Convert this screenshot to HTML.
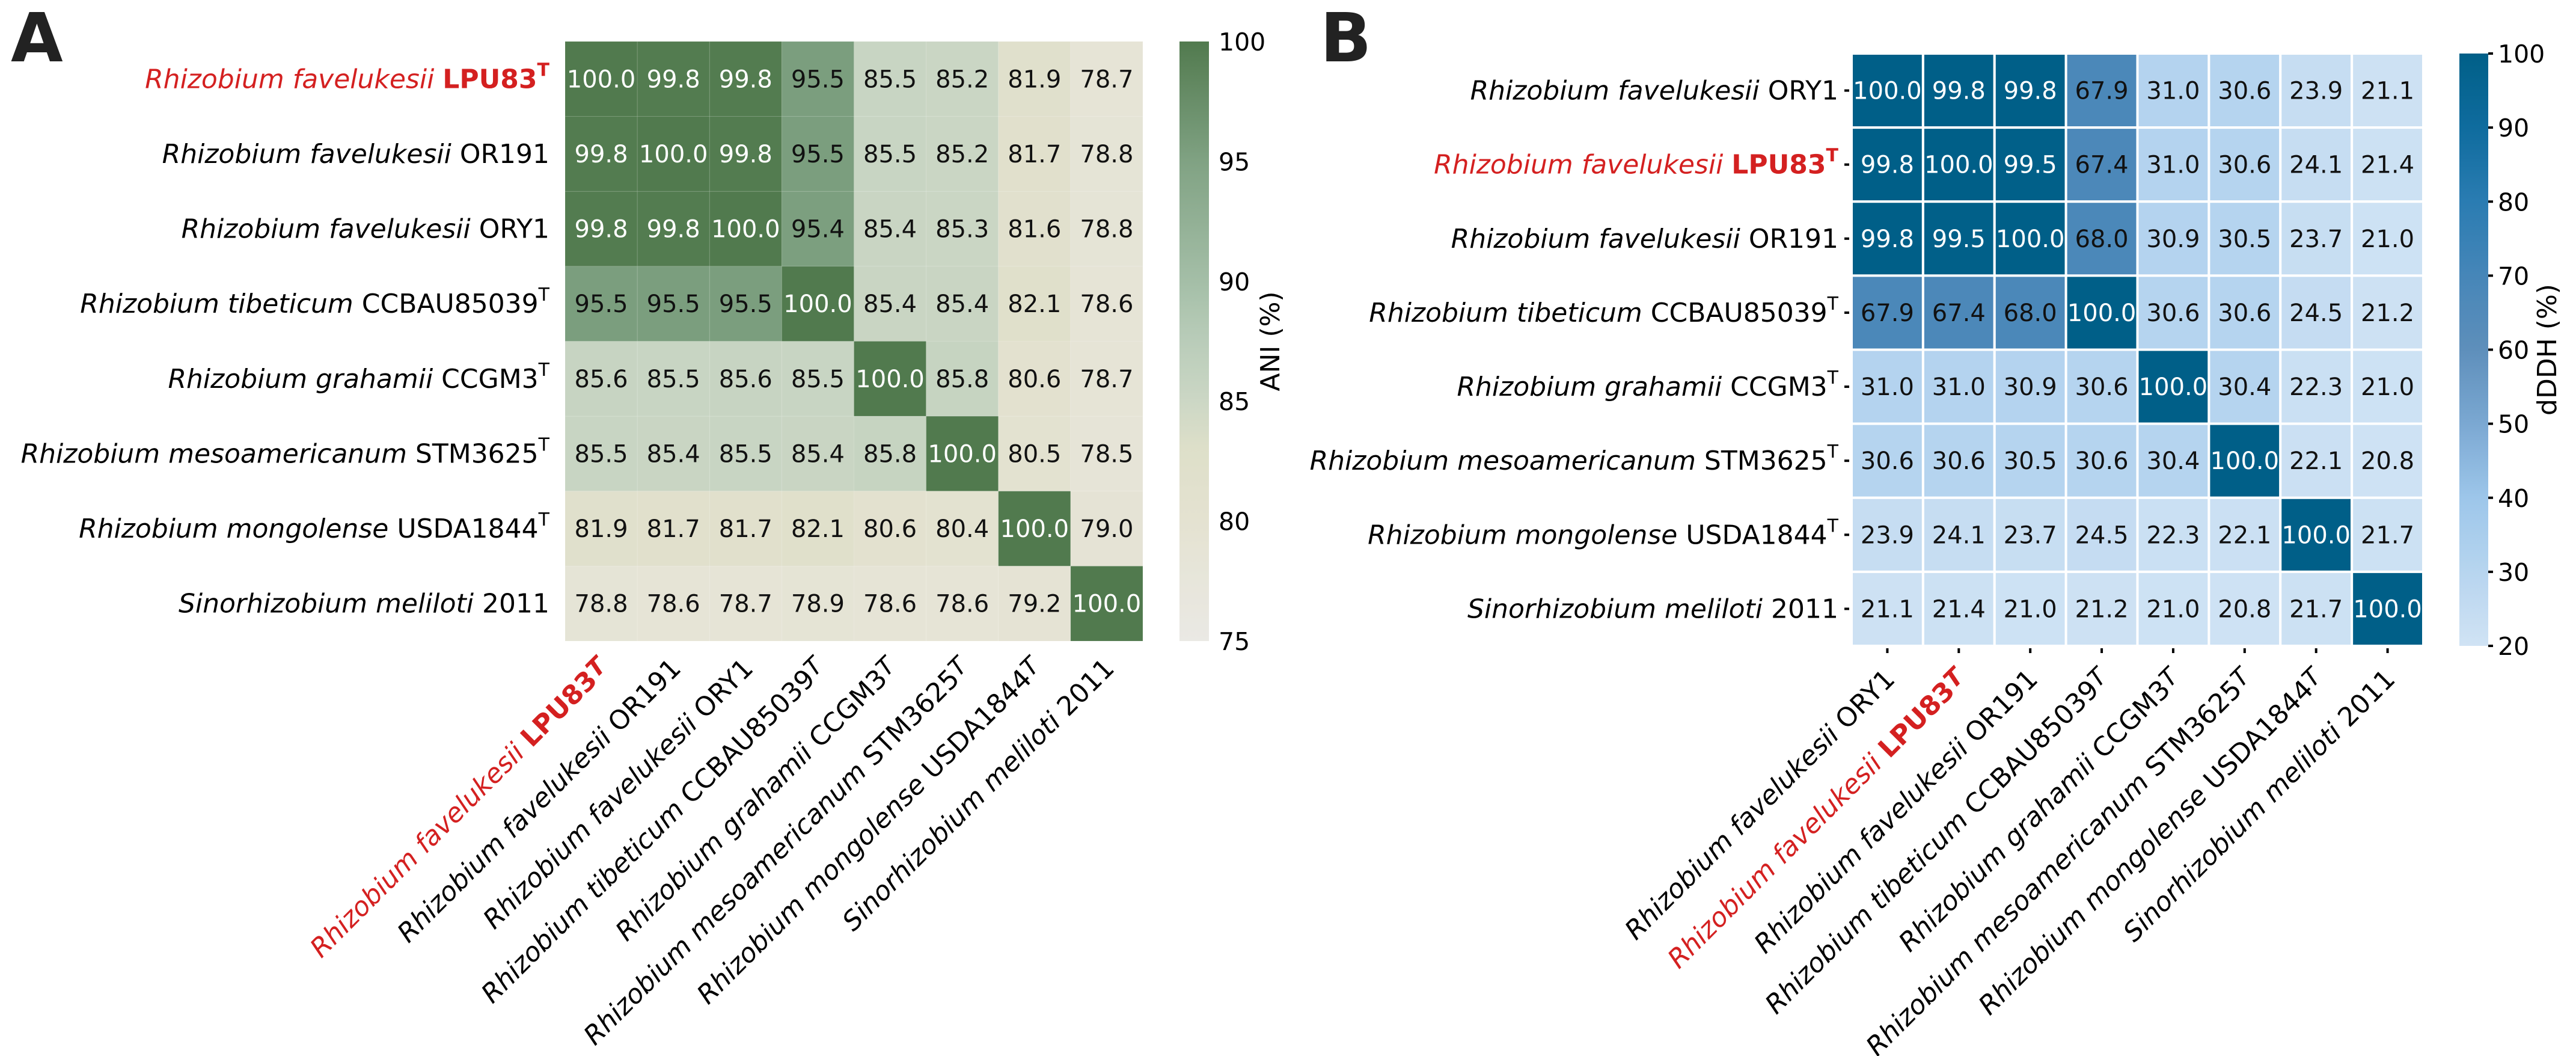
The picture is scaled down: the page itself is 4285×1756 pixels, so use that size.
<!DOCTYPE html>
<html><head><meta charset="utf-8"><style>
html,body{margin:0;padding:0;background:#fff;}
svg{display:block;font-family:"DejaVu Sans","Liberation Sans",sans-serif;}
</style></head><body>
<svg id="fig" width="4285" height="1756" viewBox="0 0 4285 1756" xmlns="http://www.w3.org/2000/svg">
<text x="18" y="102" font-size="112" font-weight="bold" fill="#222">A</text>
<text x="2196" y="102" font-size="112" font-weight="bold" fill="#222">B</text>
<g id="panelA"></g>
<g id="panelB"></g>
</svg>
<script>
// ---- Panel A data (ANI %) ----
const speciesA = ["Rhizobium favelukesii","Rhizobium favelukesii","Rhizobium favelukesii","Rhizobium tibeticum","Rhizobium grahamii","Rhizobium mesoamericanum","Rhizobium mongolense","Sinorhizobium meliloti"];
const strainA = ["LPU83","OR191","ORY1","CCBAU85039","CCGM3","STM3625","USDA1844","2011"];
const typeA = [true,false,false,true,true,true,true,false];
const highlightA = [true,false,false,false,false,false,false,false];
const valuesA = [
 [100.0,99.8,99.8,95.5,85.5,85.2,81.9,78.7],
 [99.8,100.0,99.8,95.5,85.5,85.2,81.7,78.8],
 [99.8,99.8,100.0,95.4,85.4,85.3,81.6,78.8],
 [95.5,95.5,95.5,100.0,85.4,85.4,82.1,78.6],
 [85.6,85.5,85.6,85.5,100.0,85.8,80.6,78.7],
 [85.5,85.4,85.5,85.4,85.8,100.0,80.5,78.5],
 [81.9,81.7,81.7,82.1,80.6,80.4,100.0,79.0],
 [78.8,78.6,78.7,78.9,78.6,78.6,79.2,100.0]
];
const ticksA = [75,80,85,90,95,100];
// ---- Panel B data (dDDH %) ----
const speciesB = ["Rhizobium favelukesii","Rhizobium favelukesii","Rhizobium favelukesii","Rhizobium tibeticum","Rhizobium grahamii","Rhizobium mesoamericanum","Rhizobium mongolense","Sinorhizobium meliloti"];
const strainB = ["ORY1","LPU83","OR191","CCBAU85039","CCGM3","STM3625","USDA1844","2011"];
const typeB = [false,true,false,true,true,true,true,false];
const highlightB = [false,true,false,false,false,false,false,false];
const valuesB = [
 [100.0,99.8,99.8,67.9,31.0,30.6,23.9,21.1],
 [99.8,100.0,99.5,67.4,31.0,30.6,24.1,21.4],
 [99.8,99.5,100.0,68.0,30.9,30.5,23.7,21.0],
 [67.9,67.4,68.0,100.0,30.6,30.6,24.5,21.2],
 [31.0,31.0,30.9,30.6,100.0,30.4,22.3,21.0],
 [30.6,30.6,30.5,30.6,30.4,100.0,22.1,20.8],
 [23.9,24.1,23.7,24.5,22.3,22.1,100.0,21.7],
 [21.1,21.4,21.0,21.2,21.0,20.8,21.7,100.0]
];
const ticksB = [20,30,40,50,60,70,80,90,100];

const NS="http://www.w3.org/2000/svg";
function mk(tag,attrs,parent){const e=document.createElementNS(NS,tag);for(const k in attrs)e.setAttribute(k,attrs[k]);if(parent)parent.appendChild(e);return e;}
function hex(c){return [parseInt(c.slice(1,3),16),parseInt(c.slice(3,5),16),parseInt(c.slice(5,7),16)];}
function cmap(stops,v){
  if(v<=stops[0][0])return stops[0][1];
  for(let i=1;i<stops.length;i++){if(v<=stops[i][0]){const a=stops[i-1],b=stops[i];const t=(v-a[0])/(b[0]-a[0]);const ca=hex(a[1]),cb=hex(b[1]);return "rgb("+ca.map((x,j)=>Math.round(x+(cb[j]-x)*t)).join(",")+")";}}
  return stops[stops.length-1][1];
}
const stopsA=[[75,"#eae9e4"],[80,"#e4e2d1"],[83,"#dedfc9"],[85,"#ccd7c5"],[88,"#b5cab6"],[90,"#a4bea7"],[95,"#80a283"],[100,"#517a4e"]];
const stopsB=[[20,"#d0e3f4"],[40,"#9dc6ea"],[50,"#7ba8d2"],[60,"#5e8fbb"],[70,"#4686b8"],[80,"#2a7cb2"],[90,"#0f6c9e"],[100,"#005f88"]];

function drawPanel(cfg){
  const g=document.getElementById(cfg.id);
  const n=cfg.values.length;
  const cw=(cfg.x1-cfg.x0)/n, ch=(cfg.y1-cfg.y0)/n;
  const xs=i=>cfg.x0+cw*i, ys=i=>cfg.y0+ch*i;
  const cells=mk("g",{},g);
  
  
  for(let r=0;r<n;r++)for(let c=0;c<n;c++){
    const v=cfg.values[r][c];
    const rect=mk("rect",{x:xs(c),y:ys(r),width:cw,height:ch,fill:cmap(cfg.stops,v),stroke:cfg.grid,"stroke-width":cfg.gridW},cells);
    
    
    const t=mk("text",{x:xs(c)+cw/2,y:ys(r)+ch/2+14,"text-anchor":"middle","font-size":40,fill:v>=cfg.whiteAbove?"#fff":"#111"},cells);
    t.textContent=v.toFixed(1);
    
    
  }
  for(let r=0;r<n;r++){
    const t=mk("text",{x:cfg.labelRight,y:ys(r)+ch/2+15,"text-anchor":"end","font-size":44,fill:cfg.hl[r]?"#d42020":"#000"},g);
    
    
    const s1=mk("tspan",{"font-style":"italic"},t);s1.textContent=cfg.species[r]+" ";
    const s2=mk("tspan",cfg.hl[r]?{"font-weight":"bold"}:{},t);s2.textContent=cfg.strain[r];
    if(cfg.type[r]){const s3=mk("tspan",{"font-size":30,dy:-20,"font-weight":cfg.hl[r]?"bold":"normal"},t);s3.textContent="T";}
    if(cfg.ticks){const tk=mk("line",{x1:cfg.x0-12,x2:cfg.x0-4,y1:ys(r)+ch/2,y2:ys(r)+ch/2,stroke:"#000","stroke-width":4},g);
      }
  }
  for(let c=0;c<n;c++){
    const cx=xs(c)+cw/2, py=cfg.y1+cfg.xPad, px=cx+15;
    const t=mk("text",{x:px,y:py,"text-anchor":"end","font-size":44,fill:cfg.hl[c]?"#d42020":"#000",transform:"rotate(-45 "+px+" "+py+")"},g);
    
    
    const s1=mk("tspan",{"font-style":"italic"},t);s1.textContent=cfg.species[c]+" ";
    const s2=mk("tspan",cfg.hl[c]?{"font-weight":"bold"}:{},t);s2.textContent=cfg.strain[c];
    if(cfg.type[c]){const s3=mk("tspan",{"font-size":40,dy:-6,"font-style":"italic","font-weight":cfg.hl[c]?"bold":"normal"},t);s3.textContent="T";}
    if(cfg.ticks){const tk=mk("line",{x1:cx,x2:cx,y1:cfg.y1+4,y2:cfg.y1+12,stroke:"#000","stroke-width":4},g);
      }
  }
  const cb=cfg.cb;
  const gid=cfg.id+"grad";
  const defs=mk("defs",{},g);
  const lg=mk("linearGradient",{id:gid,x1:0,y1:1,x2:0,y2:0},defs);
  for(let i=0;i<=40;i++){const v=cb.min+(cb.max-cb.min)*i/40;mk("stop",{offset:(i/40),"stop-color":cmap(cfg.stops,v)},lg);}
  const bar=mk("rect",{x:cb.x0,y:cfg.y0,width:cb.x1-cb.x0,height:cfg.y1-cfg.y0,fill:"url(#"+gid+")"},g);
  
  
  const yv=v=>cfg.y1-(v-cb.min)/(cb.max-cb.min)*(cfg.y1-cfg.y0);
  cb.ticks.forEach(v=>{
    const t=mk("text",{x:cb.x1+16,y:yv(v)+15,"font-size":41,fill:"#000"},g);
    t.textContent=v;
    
    
    if(cfg.ticks){const tk=mk("line",{x1:cb.x1,x2:cb.x1+8,y1:yv(v),y2:yv(v),stroke:"#000","stroke-width":4},g);
      }
  });
  const lx=cb.labelX, ly=(cfg.y0+cfg.y1)/2;
  const lab=mk("text",{x:lx,y:ly,"text-anchor":"middle","font-size":44,fill:"#000",transform:"rotate(-90 "+lx+" "+ly+")"},g);
  lab.textContent=cb.label;
  
  
}
drawPanel({id:"panelA",values:valuesA,species:speciesA,strain:strainA,type:typeA,hl:highlightA,stops:stopsA,
  x0:940,x1:1901,y0:69,y1:1066,grid:"rgba(255,255,255,0.12)",gridW:1,whiteAbove:97,labelRight:914,xPad:48,ticks:false,
  cb:{x0:1962,x1:2011,min:75,max:100,ticks:ticksA,label:"ANI (%)",labelX:2128}});
drawPanel({id:"panelB",values:valuesB,species:speciesB,strain:strainB,type:typeB,hl:highlightB,stops:stopsB,
  x0:3080,x1:4031,y0:89,y1:1074,grid:"#fff",gridW:4,whiteAbove:90,labelRight:3058,xPad:58,ticks:true,
  cb:{x0:4091,x1:4139,min:20,max:100,ticks:ticksB,label:"dDDH (%)",labelX:4252}});
</script>
</body></html>
